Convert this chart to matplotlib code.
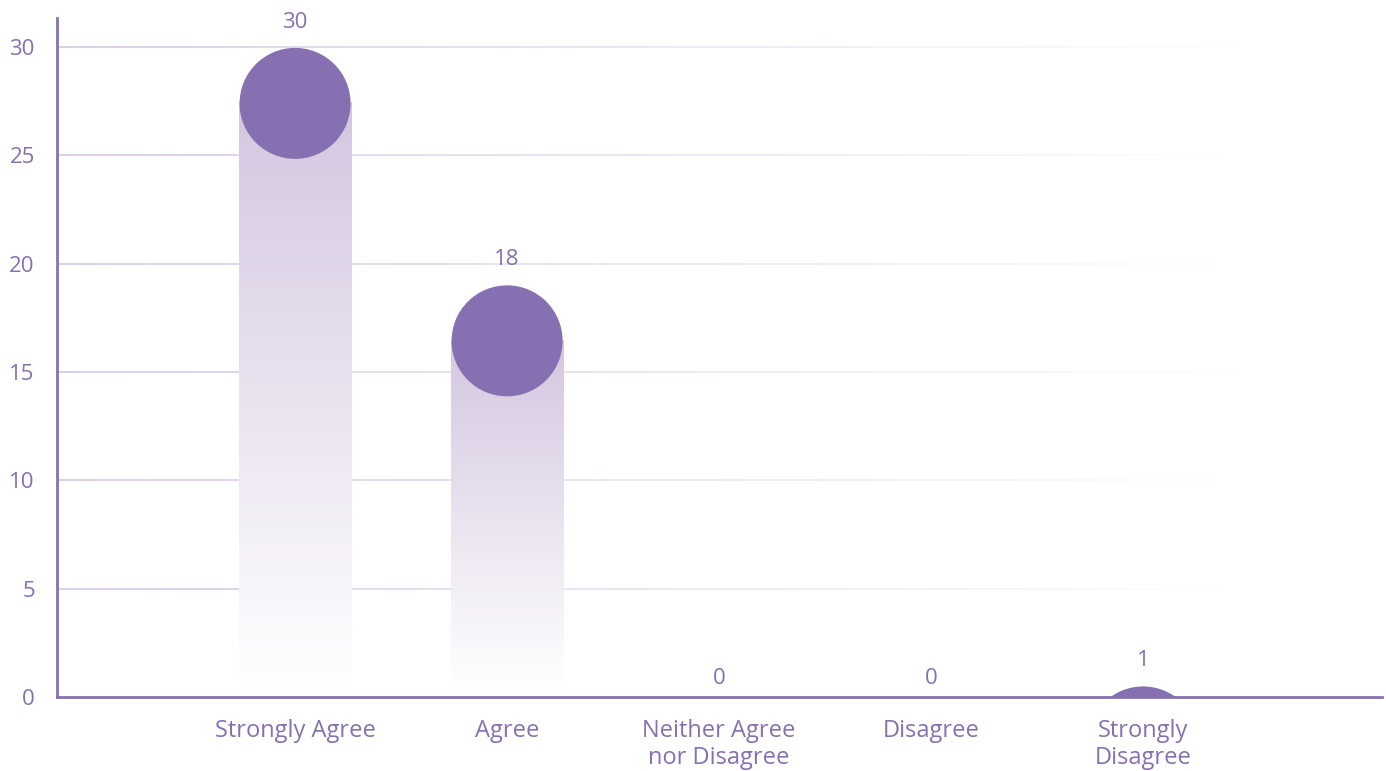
import numpy as np
import matplotlib.pyplot as plt
from matplotlib.patches import Ellipse
from matplotlib.colors import LinearSegmentedColormap

categories = ['Strongly Agree', 'Agree', 'Neither Agree\nnor Disagree', 'Disagree', 'Strongly\nDisagree']
counts = [30, 18, 0, 0, 1]
yticks = [0, 5, 10, 15, 20, 25, 30]

purple = '#8670B2'
light = '#D4C6E0'

plt.rcParams['font.family'] = ['Open Sans', 'DejaVu Sans']

fig = plt.figure(figsize=(13.86, 7.71), dpi=100)
ax = fig.add_axes([57 / 1386, 74 / 771, 1325 / 1386, 679 / 771])

ax.set_xlim(-1.123, 5.127)
ax.set_ylim(0, 31.33)

x = np.arange(len(categories))
width = 0.53

# circle radius in data units for each axis
px_per_x = 1325 / (5.127 + 1.123)
px_per_y = 679 / 31.33
r_x = 55.5 / px_per_x
r_y = 55.5 / px_per_y

# bars sit a bit below the value, the circle caps them
scale = 0.913

fade = LinearSegmentedColormap.from_list('fade', ['#FFFFFF', light])
grad = np.linspace(0, 1, 256).reshape(-1, 1)

for xi, v in zip(x, counts):
    if v <= 0:
        ax.annotate(str(v), (xi, 0), xytext=(0, 6), textcoords='offset points',
                    ha='center', va='bottom', color=purple, fontsize=16)
        continue
    center = v * scale
    if center < r_y:
        # small values: circle sinks under the axis
        center = v - 1.2 * r_y
    if center > 0.3:
        ax.imshow(grad, cmap=fade, aspect='auto', origin='lower',
                  extent=(xi - width / 2, xi + width / 2, 0.3, center), zorder=1,
                  vmin=0, vmax=1)
    ax.add_patch(Ellipse((xi, center), 2 * r_x, 2 * r_y, color=purple, zorder=3, lw=0))
    ax.annotate(str(v), (xi, center + r_y), xytext=(0, 11), textcoords='offset points',
                ha='center', va='bottom', color=purple, fontsize=16)

# grid lines fading toward the right
xs = np.linspace(-1.123, 5.127, 400)
for t in yticks[1:]:
    for i in range(len(xs) - 1):
        a = max(0.0, 1 - (xs[i] + 1.123) / 5.6)
        ax.plot(xs[i:i + 2], [t, t], color=light, lw=1.2, alpha=a,
                zorder=0, solid_capstyle='butt')

ax.set_xticks(x)
ax.set_xticklabels(categories, color=purple, fontsize=17, linespacing=1.15)
ax.set_yticks(yticks)
ax.set_yticklabels([str(t) for t in yticks], color=purple, fontsize=16)
ax.tick_params(length=0)
ax.tick_params(axis='x', pad=16)
ax.tick_params(axis='y', pad=16)

for s in ['top', 'right']:
    ax.spines[s].set_visible(False)
for s in ['left', 'bottom']:
    ax.spines[s].set_color(purple)
    ax.spines[s].set_linewidth(2)
    ax.spines[s].set_zorder(4)

fig.savefig('out.png', dpi=100, facecolor='white')
